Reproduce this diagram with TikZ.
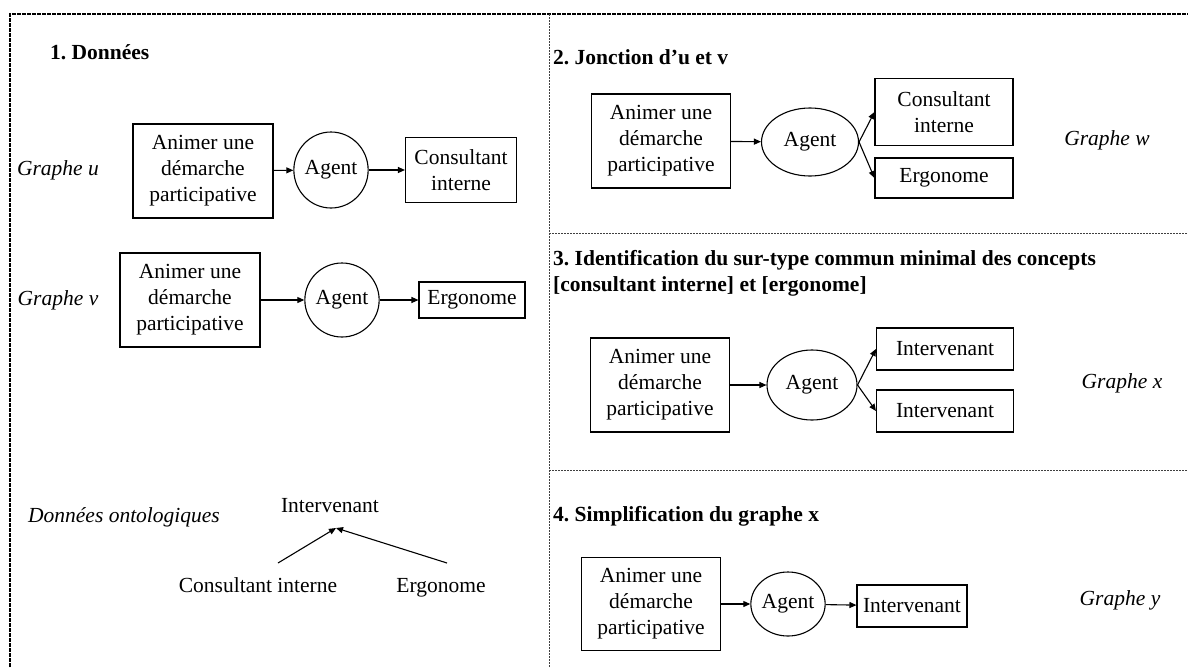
\documentclass[tikz,border=0pt]{standalone}
\usepackage{fontspec}
\setmainfont{Liberation Serif}
\frenchspacing
\usetikzlibrary{arrows.meta,shapes.geometric}
\begin{document}
\begin{tikzpicture}[x=1pt,y=-1pt,
  every node/.style={font=\fontsize{21.5}{26}\selectfont, inner sep=0pt},
  cbox/.style={draw, line width=1.1pt, align=center},
  rel/.style={draw, ellipse, line width=1.1pt},
  arr/.style={-{Triangle[length=7pt,width=6pt]}, line width=1.1pt},
  ttl/.style={font=\fontsize{21.5}{26}\selectfont\bfseries, anchor=west, align=left},
  lbl/.style={font=\fontsize{21.5}{26}\selectfont\itshape},
  frame/.style={line width=1.3pt, black, dash pattern=on 4pt off 1pt},
  sep/.style={line width=0.9pt, black!75, dash pattern=on 1.5pt off 1.5pt}]
\useasboundingbox (0,0) rectangle (1188,667);
% frame and separators
\draw[frame] (10,667) -- (10,14) -- (1188,14);
\draw[sep] (549,14) -- (549,667);
\draw[sep] (549,233) -- (1188,233);
\draw[sep] (549,470) -- (1188,470);

% ---- 1. Donnees
\node[ttl] (t1) at (50,52) {1. Données};
\node[lbl] (gu) at (58,170) {Graphe u};
\node[cbox, minimum width=140pt, minimum height=94pt] (u1) at (203,171) {Animer une\\démarche\\participative};
\node[rel, minimum width=72pt, minimum height=76pt] (u2) at (331,170) {Agent};
\node[cbox, minimum width=111pt, minimum height=65pt] (u3) at (461,170) {Consultant\\interne};
\draw[arr] (u1) -- (u2);
\draw[arr] (u2) -- (u3);

\node[lbl] (gv) at (58,300) {Graphe v};
\node[cbox, minimum width=140pt, minimum height=94pt] (v1) at (190,300) {Animer une\\démarche\\participative};
\node[rel, minimum width=72pt, minimum height=74pt] (v2) at (342,300) {Agent};
\node[cbox, minimum width=106pt, minimum height=36pt] (v3) at (472,300) {Ergonome};
\draw[arr] (v1) -- (v2);
\draw[arr] (v2) -- (v3);

\node[lbl, anchor=base] (dont) at (124,522) {Données ontologiques};
\node[anchor=base] (oi) at (330,512) {Intervenant};
\node[anchor=base] (oc) at (258,592) {Consultant interne};
\node[anchor=base] (oe) at (441,592) {Ergonome};
\coordinate (tip) at (336,528);
\coordinate (ca) at (278,563);
\coordinate (ea) at (447,563);
\draw[arr] (ca) -- (tip);
\draw[arr] (ea) -- (tip);

% ---- 2. Jonction
\node[ttl] (t2) at (553,57) {2. Jonction d’u et v};
\node[cbox, minimum width=139pt, minimum height=94pt] (w1) at (661,141) {Animer une\\démarche\\participative};
\node[rel, minimum width=97pt, minimum height=68pt] (w2) at (810,142) {Agent};
\node[cbox, minimum width=138pt, minimum height=67pt] (w3) at (944,112) {Consultant\\interne};
\node[cbox, minimum width=138pt, minimum height=40pt] (w4) at (944,178) {Ergonome};
\node[lbl] (gw) at (1107,140) {Graphe w};
\draw[arr] (w1) -- (w2);
\draw[arr] (w2.east) -- (w3.west);
\draw[arr] (w2.east) -- (w4.west);

% ---- 3. Identification
\node[ttl] (t3) at (553,273) {3. Identification du sur-type commun minimal des concepts\\{[consultant interne] et [ergonome]}};
\node[cbox, minimum width=139pt, minimum height=94pt] (x1) at (660,385) {Animer une\\démarche\\participative};
\node[rel, minimum width=90pt, minimum height=70pt] (x2) at (812,385) {Agent};
\node[cbox, minimum width=137pt, minimum height=42pt] (x3) at (945,349) {Intervenant};
\node[cbox, minimum width=137pt, minimum height=42pt] (x4) at (945,411) {Intervenant};
\node[lbl] (gx) at (1122,383) {Graphe x};
\draw[arr] (x1) -- (x2);
\draw[arr] (x2.east) -- (x3.west);
\draw[arr] (x2.east) -- (x4.west);

% ---- 4. Simplification
\node[ttl] (t4) at (553,516) {4. Simplification du graphe x};
\node[cbox, minimum width=139pt, minimum height=93pt] (y1) at (651,604) {Animer une\\démarche\\participative};
\node[rel, minimum width=64pt, minimum height=64pt] (y2) at (788,604) {Agent};
\node[cbox, minimum width=110pt, minimum height=42pt] (y3) at (912,606) {Intervenant};
\node[lbl] (gy) at (1120,600) {Graphe y};
\draw[arr] (y1) -- (y2);
\draw[arr] (y2) -- (y3);
\end{tikzpicture}
\end{document}
